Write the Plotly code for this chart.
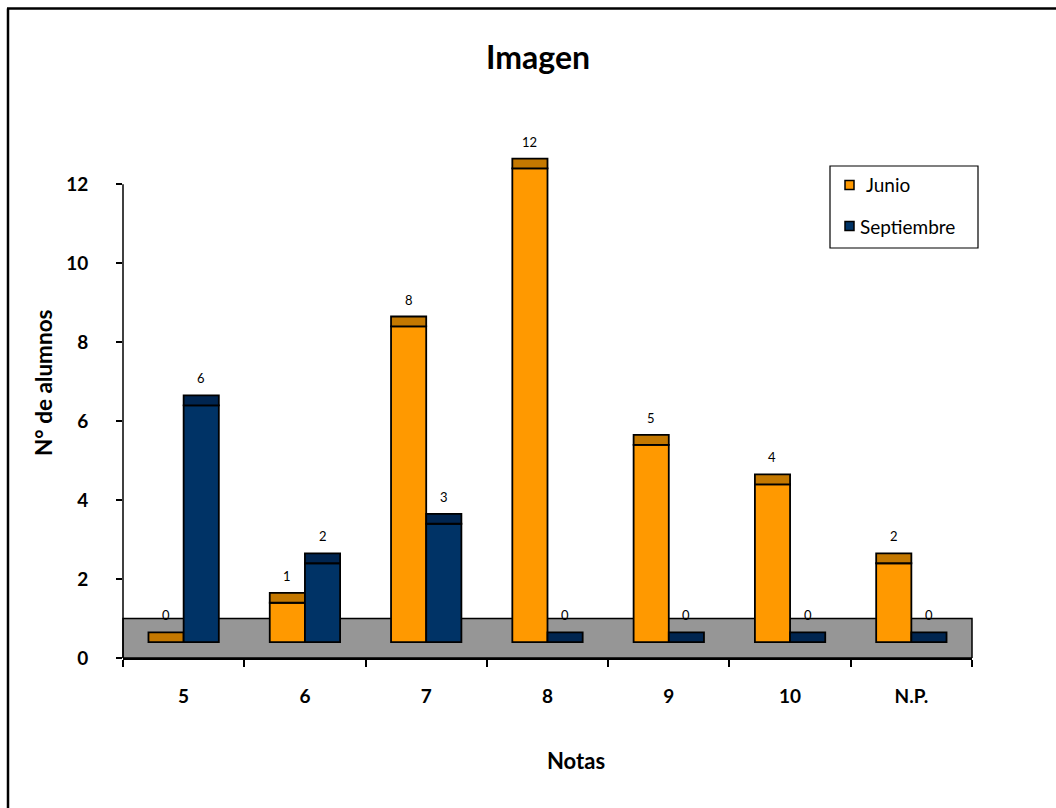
import plotly.graph_objects as go

categories = ["5", "6", "7", "8", "9", "10", "N.P."]
junio = [0, 1, 8, 12, 5, 4, 2]
septiembre = [6, 2, 3, 0, 0, 0, 0]
series_names = ["Junio", "Septiembre"]
front_colors = ["#FF9900", "#003366"]
top_colors = ["#C47800", "#002550"]

BASE = 0.4      # floor lift of the pseudo-3D bars
DEPTH = 0.25    # visible top face
WIDTH = 0.29
OFFSETS = [-0.29, 0.0]

FONT = "Lato"

# plot area in pixels
L, R, T, B = 123, 972, 125, 658
W_IMG, H_IMG = 1056, 808
def px(x):
    return (x - L) / (R - L)
def py(y):
    return (B - y) / (B - T)

fig = go.Figure()
annotations = []
for name, vals, fc, tc, off in zip(series_names, [junio, septiembre], front_colors, top_colors, OFFSETS):
    fig.add_trace(go.Bar(
        x=categories, y=vals, base=[BASE] * len(vals), name=name,
        offset=off, width=WIDTH,
        marker=dict(color=fc, line=dict(color="#000000", width=1.8)),
        showlegend=False, hoverinfo="skip"))
    fig.add_trace(go.Bar(
        x=categories, y=[DEPTH] * len(vals), base=[BASE + v for v in vals], name=name,
        offset=off, width=WIDTH,
        marker=dict(color=tc, line=dict(color="#000000", width=1.8)),
        showlegend=False, hoverinfo="skip"))
    for i, v in enumerate(vals):
        annotations.append(dict(
            x=i + off + WIDTH / 2, y=BASE + v + DEPTH + 0.43, xref="x", yref="y",
            text=str(v), showarrow=False, xanchor="center", yanchor="middle",
            font=dict(family=FONT, size=13, color="#000000")))

shapes = [
    # floor
    dict(type="rect", xref="x domain", yref="y", x0=0, x1=1, y0=0, y1=1,
         fillcolor="#969696", line=dict(color="#000000", width=1.5), layer="below"),
    # y axis line
    dict(type="line", xref="x domain", yref="y", x0=0, x1=0, y0=0, y1=12,
         line=dict(color="#000000", width=1.5)),
    # frame lines (top and left)
    dict(type="line", xref="paper", yref="paper", x0=px(7), x1=px(W_IMG + 5), y0=py(8.5), y1=py(8.5),
         line=dict(color="#000000", width=2.5)),
    dict(type="line", xref="paper", yref="paper", x0=px(8), x1=px(8), y0=py(8.5), y1=py(H_IMG + 5),
         line=dict(color="#000000", width=2.5)),
    # legend box
    dict(type="rect", xref="paper", yref="paper", x0=px(830), x1=px(978), y0=py(166), y1=py(248),
         fillcolor="#FFFFFF", line=dict(color="#000000", width=1.2)),
]
# legend items
leg_y = [185, 226]
leg_text_x = [864, 858]
for name, fc, yy, tx in zip(series_names, front_colors, leg_y, leg_text_x):
    shapes.append(dict(type="rect", xref="paper", yref="paper",
                       x0=px(845), x1=px(854), y0=py(yy - 4.5), y1=py(yy + 4.5),
                       fillcolor=fc, line=dict(color="#000000", width=1.5)))
    annotations.append(dict(x=px(tx), y=py(yy), xref="paper", yref="paper", text=name,
                            showarrow=False, xanchor="left", yanchor="middle",
                            font=dict(family=FONT, size=19, color="#000000")))

annotations.append(dict(x=px(538), y=py(57), xref="paper", yref="paper", text="<b>Imagen</b>",
                        showarrow=False, xanchor="center", yanchor="middle",
                        font=dict(family=FONT, size=32, color="#000000")))
annotations.append(dict(x=px(43), y=py(383), xref="paper", yref="paper", text="<b>N° de alumnos</b>",
                        showarrow=False, xanchor="center", yanchor="middle", textangle=-90,
                        font=dict(family=FONT, size=22.5, color="#000000")))
annotations.append(dict(x=px(576), y=py(760), xref="paper", yref="paper", text="<b>Notas</b>",
                        showarrow=False, xanchor="center", yanchor="middle",
                        font=dict(family=FONT, size=22, color="#000000")))

fig.update_layout(
    width=W_IMG, height=H_IMG,
    margin=dict(l=L, r=W_IMG - R, t=T, b=H_IMG - B, pad=0),
    paper_bgcolor="#FFFFFF", plot_bgcolor="#FFFFFF",
    barmode="overlay", showlegend=False,
    shapes=shapes, annotations=annotations,
    xaxis=dict(type="category", range=[-0.5, 6.5], tickson="boundaries",
               ticks="outside", ticklen=7, tickwidth=1.5, tickcolor="#000000",
               ticklabelstandoff=20,
               showline=True, linecolor="#000000", linewidth=1.5, showgrid=False,
               zeroline=False, tickfont=dict(family=FONT, size=19, color="#000000", weight="bold")),
    yaxis=dict(range=[0, 13.5], tickvals=[0, 2, 4, 6, 8, 10, 12],
               ticks="outside", ticklen=6, tickwidth=1.5, tickcolor="#000000",
               ticklabelstandoff=24,
               showline=False, showgrid=False, zeroline=False,
               tickfont=dict(family=FONT, size=19, color="#000000", weight="bold")),
)

fig.write_html("out.html", config={"displayModeBar": False},
               post_script="document.body.style.margin='0';document.body.style.overflow='hidden';")
